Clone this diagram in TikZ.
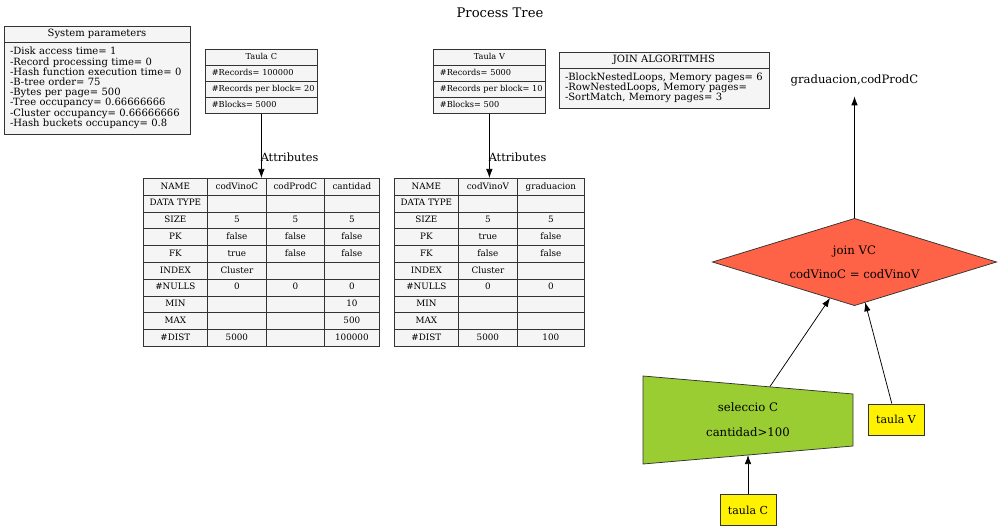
\documentclass[tikz,border=0pt]{standalone}
\usepackage{fontspec}
\setmainfont{DejaVu Serif}
\usetikzlibrary{shapes.geometric,arrows.meta,positioning,matrix,calc}
\definecolor{tomato}{HTML}{FF6347}
\definecolor{yellowgreen}{HTML}{9ACD32}
\definecolor{whitesmoke}{HTML}{F5F5F5}
\definecolor{edgegray}{HTML}{333333}

\begin{document}
\begin{tikzpicture}[x=1pt, y=-1pt, line width=0.75pt, >={Latex[length=9pt,width=6.5pt]}]
	\tikzstyle{infohead} = [rectangle, draw=edgegray, fill=whitesmoke, minimum height=16pt,
	inner sep=0pt, outer sep=0pt, font=\fontsize{10}{12}\selectfont]
	\tikzstyle{infobody} = [rectangle, draw=edgegray, fill=whitesmoke, align=left, inner xsep=6pt,
	inner ysep=3pt, outer sep=0pt, font=\fontsize{10}{10.2}\selectfont]
	\tikzstyle{relbox} = [matrix of nodes, inner sep=0pt, outer sep=0pt, row sep=-0.75pt,
	nodes={rectangle, draw=edgegray, fill=whitesmoke, text width=99pt, align=left,
	minimum height=16pt, text height=6pt, text depth=1.8pt, inner xsep=6.5pt, inner ysep=0pt,
	anchor=center, font=\fontsize{8.2}{9}\selectfont}, row 1/.style={nodes={align=center}}]
	\tikzstyle{attrtable} = [matrix of nodes, nodes in empty cells, inner sep=0pt, outer sep=0pt,
	column sep=-0.75pt, row sep=-0.75pt, nodes={rectangle, draw=edgegray, fill=whitesmoke,
	minimum height=16.8pt, text height=6.5pt, text depth=1.8pt, inner sep=0pt, anchor=center,
	font=\fontsize{8.8}{10}\selectfont}]
	\tikzstyle{leaf} = [rectangle, draw=edgegray, fill=yellow, minimum height=31pt, minimum width=56pt,
	inner sep=0pt, font=\fontsize{11}{13}\selectfont]
	\useasboundingbox (0,0) rectangle (1000,529);
	% title
	\node (title) at (500,13) [font=\fontsize{13.2}{15}\selectfont] {Process Tree};
	% system parameters
	\node (sys_head) at (97,34) [infohead, minimum width=186pt] {System parameters};
	\node (sys_body) [infobody, below=0pt of sys_head, text width=174pt, minimum height=92pt]
		{-Disk access time= 1\\-Record processing time= 0\\-Hash function execution time= 0\\
		-B-tree order= 75\\-Bytes per page= 500\\-Tree occupancy= 0.66666666\\
		-Cluster occupancy= 0.66666666\\-Hash buckets occupancy= 0.8};
	% join algorithms
	\node (join_head) at (664,60) [infohead, minimum width=210pt] {JOIN ALGORITMHS};
	\node (join_body) [infobody, below=0pt of join_head, text width=198pt, minimum height=40pt]
		{-BlockNestedLoops, Memory pages= 6\\-RowNestedLoops, Memory pages=\\-SortMatch, Memory pages= 3};
	% taula C
	\matrix (taula_C) at (205,49) [relbox, anchor=north west] {
		Taula C \\
		\#Records=~100000 \\
		\#Records~per~block=~20 \\
		\#Blocks=~5000 \\
	};
	\matrix (attr_C) at (143,178) [attrtable, anchor=north west,
		column 1/.style={nodes={minimum width=64pt}}, column 2/.style={nodes={minimum width=59pt}},
		column 3/.style={nodes={minimum width=58pt}}, column 4/.style={nodes={minimum width=55pt}}] {
		NAME & codVinoC & codProdC & cantidad \\
		DATA TYPE & & & \\
		SIZE & 5 & 5 & 5 \\
		PK & false & false & false \\
		FK & true & false & false \\
		INDEX & Cluster & & \\
		\#NULLS & 0 & 0 & 0 \\
		MIN & & & 10 \\
		MAX & & & 500 \\
		\#DIST & 5000 & & 100000 \\
	};
	\draw[->] (taula_C.south) -- node[pos=0.68, anchor=west, inner sep=0pt, xshift=-1pt,
		font=\fontsize{11.3}{13}\selectfont] {Attributes} (attr_C.north);
	% taula V
	\matrix (taula_V) at (433,49) [relbox, anchor=north west] {
		Taula V \\
		\#Records=~5000 \\
		\#Records~per~block=~10 \\
		\#Blocks=~500 \\
	};
	\matrix (attr_V) at (394,178) [attrtable, anchor=north west,
		column 1/.style={nodes={minimum width=64pt}}, column 2/.style={nodes={minimum width=59pt}},
		column 3/.style={nodes={minimum width=67pt}}] {
		NAME & codVinoV & graduacion \\
		DATA TYPE & & \\
		SIZE & 5 & 5 \\
		PK & true & false \\
		FK & false & false \\
		INDEX & Cluster & \\
		\#NULLS & 0 & 0 \\
		MIN & & \\
		MAX & & \\
		\#DIST & 5000 & 100 \\
	};
	\draw[->] (taula_V.south) -- node[pos=0.68, anchor=west, inner sep=0pt, xshift=-1pt,
		font=\fontsize{11.3}{13}\selectfont] {Attributes} (attr_V.north);
	% process tree
	\node (join) at (854.5,262) [diamond, aspect=3.24, draw=edgegray, fill=tomato, minimum width=284pt,
		minimum height=87pt, inner sep=0pt, outer sep=0pt, align=center, font=\fontsize{11.7}{13}\selectfont]
		{join VC\\[11pt]codVinoC = codVinoV};
	\node (result) at (854.5,80) [minimum height=32pt, inner sep=0pt, font=\fontsize{11.6}{13}\selectfont]
		{graduacion,codProdC};
	\coordinate (sel_tl) at (643,376);
	\coordinate (sel_tr) at (853,394);
	\coordinate (sel_br) at (853,446);
	\coordinate (sel_bl) at (643,464);
	\draw[draw=edgegray, fill=yellowgreen] (sel_tl) -- (sel_tr) -- (sel_br) -- (sel_bl) -- cycle;
	\node (seleccio) at (748,420) [align=center, font=\fontsize{11.7}{13}\selectfont]
		{seleccio C\\[12pt]cantidad>100};
	\coordinate (sel_top) at (770,386.5);
	\coordinate (sel_bot) at (748,455);
	\node (leaf_C) at (748,510) [leaf] {taula C};
	\node (leaf_V) at (896,419.5) [leaf] {taula V};
	\draw[->] (join.north) -- (result.south);
	\draw[->] (sel_top) -- (join);
	\draw[->] (leaf_V) -- (join);
	\draw[->] (leaf_C.north) -- (sel_bot);
\end{tikzpicture}
\end{document}
